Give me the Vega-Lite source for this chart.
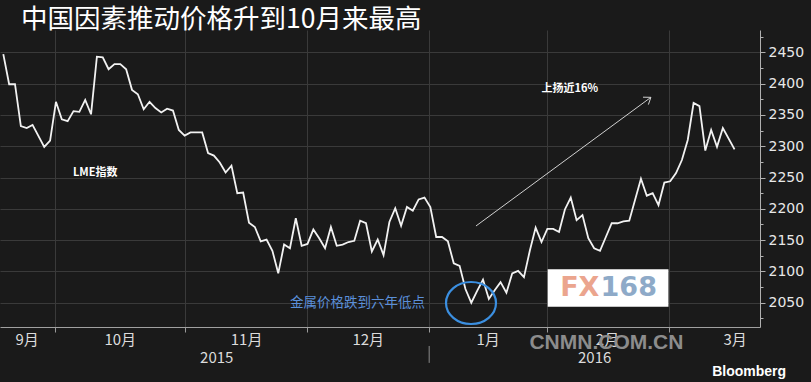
{
  "$schema": "https://vega.github.io/schema/vega-lite/v6.json",
  "width": 760,
  "height": 297,
  "autosize": {"type": "none"},
  "padding": {"left": 0, "top": 30, "right": 51, "bottom": 55},
  "background": "#1a1a1a",
  "config": {"view": {"stroke": null}},
  "title": {"text": "中国因素推动价格升到10月来最高", "anchor": "start", "frame": "group", "dx": 21, "dy": 4, "offset": 0, "fontSize": 26.5, "font": "Noto Sans CJK SC", "fontWeight": "normal", "color": "#ffffff"},
  "datasets": {
    "lme": [
      {"d": 0, "v": 2447}, {"d": 1, "v": 2399}, {"d": 2, "v": 2399}, {"d": 3, "v": 2332}, {"d": 4, "v": 2329},
      {"d": 5, "v": 2334}, {"d": 7, "v": 2299}, {"d": 8, "v": 2309}, {"d": 9, "v": 2371}, {"d": 10, "v": 2343},
      {"d": 11, "v": 2340}, {"d": 12, "v": 2356}, {"d": 13, "v": 2355}, {"d": 14, "v": 2374}, {"d": 15, "v": 2351},
      {"d": 16, "v": 2443}, {"d": 17, "v": 2442}, {"d": 18, "v": 2423}, {"d": 19, "v": 2431}, {"d": 20, "v": 2431},
      {"d": 21, "v": 2423}, {"d": 22, "v": 2390}, {"d": 23, "v": 2383}, {"d": 24, "v": 2359}, {"d": 25, "v": 2371},
      {"d": 26, "v": 2361}, {"d": 27, "v": 2354}, {"d": 28, "v": 2360}, {"d": 29, "v": 2357}, {"d": 30, "v": 2326},
      {"d": 31, "v": 2317}, {"d": 32, "v": 2322}, {"d": 33, "v": 2322}, {"d": 34, "v": 2322}, {"d": 35, "v": 2289},
      {"d": 36, "v": 2285}, {"d": 37, "v": 2274}, {"d": 38, "v": 2258}, {"d": 39, "v": 2269}, {"d": 40, "v": 2225},
      {"d": 41, "v": 2226}, {"d": 42, "v": 2178}, {"d": 43, "v": 2171}, {"d": 44, "v": 2148}, {"d": 45, "v": 2151},
      {"d": 46, "v": 2133}, {"d": 47, "v": 2097}, {"d": 48, "v": 2143}, {"d": 49, "v": 2137}, {"d": 50, "v": 2185},
      {"d": 51, "v": 2141}, {"d": 52, "v": 2144}, {"d": 53, "v": 2167}, {"d": 54, "v": 2153}, {"d": 55, "v": 2137},
      {"d": 56, "v": 2171}, {"d": 57, "v": 2141}, {"d": 58, "v": 2143}, {"d": 59, "v": 2147}, {"d": 60, "v": 2149},
      {"d": 61, "v": 2181}, {"d": 62, "v": 2177}, {"d": 63, "v": 2132}, {"d": 64, "v": 2151}, {"d": 65, "v": 2126},
      {"d": 66, "v": 2179}, {"d": 67, "v": 2201}, {"d": 68, "v": 2173}, {"d": 69, "v": 2203}, {"d": 70, "v": 2197},
      {"d": 71, "v": 2215}, {"d": 72, "v": 2218}, {"d": 73, "v": 2203}, {"d": 74, "v": 2155}, {"d": 75, "v": 2155},
      {"d": 76, "v": 2148}, {"d": 77, "v": 2113}, {"d": 78, "v": 2109}, {"d": 79, "v": 2072}, {"d": 80, "v": 2050},
      {"d": 81, "v": 2069}, {"d": 82, "v": 2087}, {"d": 83, "v": 2056}, {"d": 84, "v": 2070}, {"d": 85, "v": 2083},
      {"d": 86, "v": 2066}, {"d": 87, "v": 2097}, {"d": 88, "v": 2101}, {"d": 89, "v": 2091}, {"d": 90, "v": 2133},
      {"d": 91, "v": 2170}, {"d": 92, "v": 2147}, {"d": 93, "v": 2168}, {"d": 94, "v": 2168}, {"d": 95, "v": 2163},
      {"d": 96, "v": 2199}, {"d": 97, "v": 2218}, {"d": 98, "v": 2182}, {"d": 99, "v": 2190}, {"d": 100, "v": 2153},
      {"d": 101, "v": 2137}, {"d": 102, "v": 2133}, {"d": 103, "v": 2155}, {"d": 104, "v": 2177}, {"d": 105, "v": 2177},
      {"d": 106, "v": 2180}, {"d": 107, "v": 2181}, {"d": 109, "v": 2248}, {"d": 110, "v": 2221}, {"d": 111, "v": 2225},
      {"d": 112, "v": 2206}, {"d": 113, "v": 2242}, {"d": 114, "v": 2244}, {"d": 115, "v": 2257}, {"d": 116, "v": 2278},
      {"d": 117, "v": 2310}, {"d": 118, "v": 2369}, {"d": 119, "v": 2364}, {"d": 120, "v": 2293}, {"d": 121, "v": 2326},
      {"d": 122, "v": 2299}, {"d": 123, "v": 2329}, {"d": 125, "v": 2295}
    ],
    "arrow": [
      {"d": 80.8, "v": 2172.6, "d2": 110.7, "v2": 2378.1},
      {"d": 110.7, "v": 2378.1, "d2": 109.35, "v2": 2378.3},
      {"d": 110.7, "v": 2378.1, "d2": 110.27, "v2": 2366.5}
    ]
  },
  "encoding": {
    "x": {
      "field": "d", "type": "quantitative",
      "scale": {"domain": [-0.564, 129.35], "nice": false, "zero": false},
      "axis": {
        "title": null,
        "values": [8.8, 31, 51.9, 72.8, 92.9, 113.8, 4, 19.9, 41.5, 62.3, 82.8, 103.2, 125, 36.4, 101],
        "labelExpr": "datum.value == 4 ? '9月' : datum.value == 19.9 ? '10月' : datum.value == 41.5 ? '11月' : datum.value == 62.3 ? '12月' : datum.value == 82.8 ? '1月' : datum.value == 103.2 ? '2月' : datum.value == 125 ? '3月' : datum.value == 36.4 ? ['', '2015'] : datum.value == 101 ? ['', '2016'] : ''",
        "grid": true,
        "gridColor": "#3a3a3a",
        "gridOpacity": {"condition": {"test": "indexof([8.8, 31, 51.9, 72.8, 92.9, 113.8], datum.value) >= 0", "value": 1}, "value": 0},
        "tickOpacity": {"condition": {"test": "indexof([8.8, 31, 51.9, 72.8, 92.9, 113.8], datum.value) >= 0", "value": 1}, "value": 0},
        "tickSize": 5,
        "tickColor": "#9a9a9a",
        "domainColor": "#a0a0a0",
        "labelColor": "#dcdcdc",
        "labelFont": "Noto Sans CJK SC",
        "labelFontSize": 15,
        "labelLineHeight": 18,
        "labelPadding": 0,
        "labelOverlap": false,
        "labelFlush": false,
        "labelBound": false
      }
    },
    "y": {
      "field": "v", "type": "quantitative",
      "scale": {"domain": [2011.3, 2485.6], "nice": false, "zero": false},
      "axis": {
        "title": null,
        "orient": "right",
        "values": [2025, 2050, 2075, 2100, 2125, 2150, 2175, 2200, 2225, 2250, 2275, 2300, 2325, 2350, 2375, 2400, 2425, 2450, 2475],
        "format": "d",
        "labelExpr": "datum.value % 50 == 0 ? datum.label : ''",
        "grid": true,
        "gridColor": "#3a3a3a",
        "gridOpacity": {"condition": {"test": "datum.value % 50 == 0", "value": 1}, "value": 0},
        "tickSize": {"condition": {"test": "datum.value % 50 == 0", "value": 5}, "value": 3},
        "tickColor": "#b0b0b0",
        "domainColor": "#b0b0b0",
        "labelColor": "#e8e8e8",
        "labelFont": "DejaVu Sans",
        "labelFontSize": 14,
        "labelPadding": 3,
        "labelOverlap": false
      }
    }
  },
  "layer": [
    {
      "data": {"name": "lme"},
      "mark": {"type": "line", "color": "#f2f2f2", "strokeWidth": 1.8}
    },
    {
      "data": {"values": [{"d": 72.8, "v": 1981, "v2": 1954}]},
      "mark": {"type": "rule", "color": "#8a8a8a", "strokeWidth": 1},
      "encoding": {"y2": {"field": "v2"}}
    },
    {
      "data": {"name": "arrow"},
      "mark": {"type": "rule", "color": "#d0d0d0", "strokeWidth": 1},
      "encoding": {"x2": {"field": "d2"}, "y2": {"field": "v2"}}
    },
    {
      "data": {"values": [{"d": 79.95, "v": 2049.6}]},
      "mark": {"type": "point", "shape": "M -1 0 A 1 0.84 0 1 0 1 0 A 1 0.84 0 1 0 -1 0 Z", "size": 2500, "filled": false, "stroke": "#3b8fe0", "strokeWidth": 2.2, "opacity": 1}
    },
    {
      "data": {"values": [{"d": 93.06, "d2": 113.7, "v": 2103.5, "v2": 2043.7}]},
      "mark": {"type": "rect", "fill": "#ffffff"},
      "encoding": {"x2": {"field": "d2"}, "y2": {"field": "v2"}}
    },
    {
      "data": {"values": [{"d": 101.9, "v": 2073.6, "t": "FX"}]},
      "mark": {"type": "text", "align": "right", "baseline": "middle", "font": "DejaVu Sans", "fontWeight": "bold", "fontSize": 27, "fill": "#eba58e"},
      "encoding": {"text": {"field": "t"}}
    },
    {
      "data": {"values": [{"d": 102.1, "v": 2073.6, "t": "168"}]},
      "mark": {"type": "text", "align": "left", "baseline": "middle", "font": "DejaVu Sans", "fontWeight": "bold", "fontSize": 27, "fill": "#8eaac8"},
      "encoding": {"text": {"field": "t"}}
    },
    {
      "data": {"values": [{"d": 11.9, "v": 2257, "t": "LME指数"}, {"d": 92.0, "v": 2391, "t": "上扬近16%"}]},
      "mark": {"type": "text", "align": "left", "baseline": "middle", "font": "Noto Sans CJK SC", "fontWeight": "bold", "fontSize": 11, "fill": "#ffffff"},
      "encoding": {"text": {"field": "t"}}
    },
    {
      "data": {"values": [{"d": 49, "v": 2050, "t": "金属价格跌到六年低点"}]},
      "mark": {"type": "text", "align": "left", "baseline": "middle", "font": "Noto Sans CJK SC", "fontSize": 13.5, "fill": "#5b8fd9"},
      "encoding": {"text": {"field": "t"}}
    },
    {
      "data": {"values": [{"d": 103.1, "v": 1985.7, "t": "CNMN.COM.CN"}]},
      "mark": {"type": "text", "align": "center", "baseline": "middle", "font": "Liberation Sans", "fontWeight": "bold", "fontSize": 21, "fill": "#8c8c8c"},
      "encoding": {"text": {"field": "t"}}
    },
    {
      "data": {"values": [{"d": 133.8, "v": 1939.4, "t": "Bloomberg"}]},
      "mark": {"type": "text", "align": "right", "baseline": "middle", "font": "Liberation Sans", "fontWeight": "bold", "fontSize": 14, "fill": "#ffffff"},
      "encoding": {"text": {"field": "t"}}
    }
  ]
}
